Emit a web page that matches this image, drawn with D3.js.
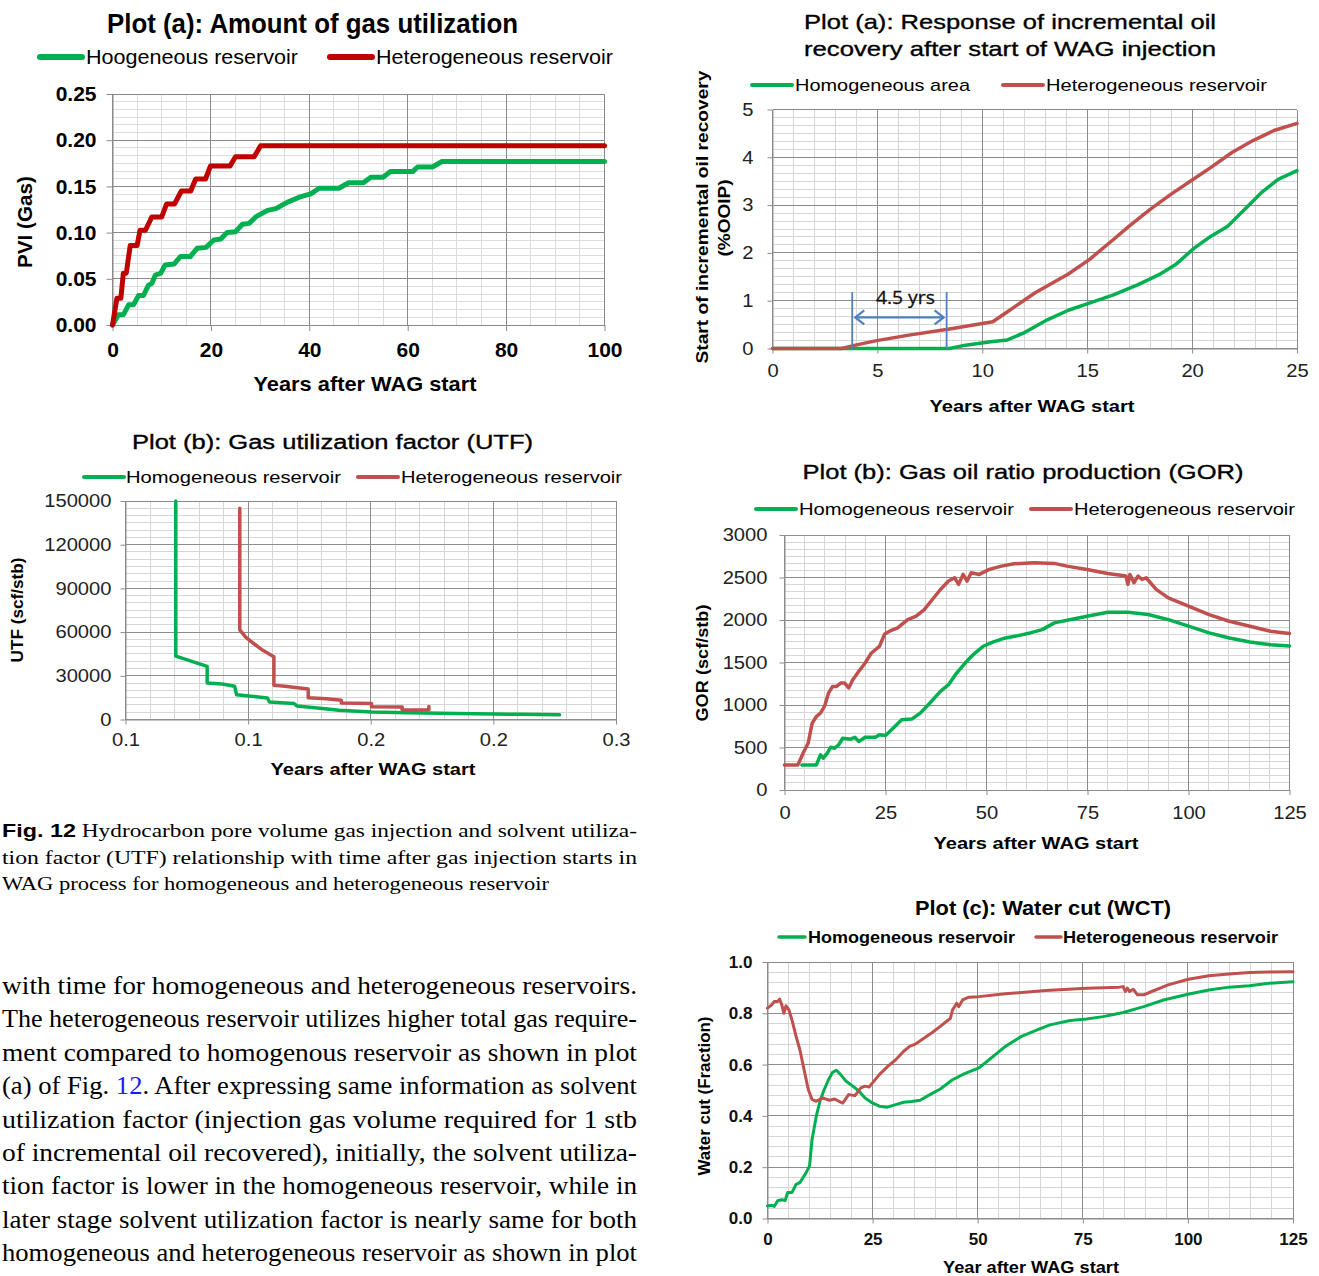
<!DOCTYPE html>
<html><head><meta charset="utf-8">
<script src="https://cdn.jsdelivr.net/npm/d3@7"></script>
<style>body{margin:0;background:#fff}svg{display:block}</style>
</head><body>
<svg id="fig" width="1319" height="1276"></svg>
<script>
// ---------- Panel (a) left: cumulative PVI of injected gas ----------
const pviYearsTicks = [0, 20, 40, 60, 80, 100];
const pviTicks = [0, 0.05, 0.10, 0.15, 0.20, 0.25];
const pviHomo = [[0,0],[1.2,0.011],[2.2,0.011],[3.3,0.022],[4.3,0.022],[5.3,0.032],[6.3,0.032],[7.3,0.043],[8,0.045],[8.7,0.054],[9.8,0.056],[10.7,0.065],[12.5,0.066],[13.8,0.074],[15.8,0.074],[17.2,0.083],[19,0.084],[20.6,0.092],[22,0.093],[23.3,0.1],[25,0.101],[26.4,0.109],[27.8,0.11],[29.1,0.117],[31.5,0.124],[33.2,0.126],[35.6,0.133],[38.3,0.139],[40.3,0.142],[42,0.148],[46,0.148],[48,0.154],[51,0.154],[52.5,0.16],[55,0.16],[56.5,0.166],[61,0.166],[62,0.171],[65,0.171],[67,0.177],[100,0.177]];
const pviHetero = [[0,0],[0.9,0.029],[1.7,0.029],[2.2,0.056],[2.8,0.056],[3.6,0.086],[5,0.086],[5.6,0.1025],[6.7,0.1025],[8,0.117],[10,0.117],[11,0.131],[12.6,0.131],[14,0.145],[15.9,0.145],[16.9,0.158],[18.9,0.158],[19.9,0.172],[23.9,0.172],[25,0.182],[28.8,0.182],[30.1,0.194],[100,0.194]];

// ---------- Panel (b) left: gas utilization factor ----------
const utfYearTicks = [0.05, 0.10, 0.15, 0.20, 0.25];
const utfYearLabels = ["0.1", "0.1", "0.2", "0.2", "0.3"];
const utfTicks = [0, 30000, 60000, 90000, 120000, 150000];
const utfHomo = [[0.0705,150000],[0.0705,43500],[0.0833,36500],[0.0833,25000],[0.0895,24400],[0.0945,22800],[0.0953,17000],[0.1078,14800],[0.1087,12000],[0.1187,11000],[0.12,9200],[0.1303,7600],[0.137,6300],[0.1503,5100],[0.165,4600],[0.1853,4100],[0.2103,3600],[0.227,3300]];
const utfHetero = [[0.0966,145000],[0.0966,61500],[0.099,56500],[0.102,52500],[0.106,47500],[0.1105,43000],[0.1105,23500],[0.115,22800],[0.1245,21000],[0.1245,15000],[0.132,14300],[0.138,13200],[0.138,11300],[0.1503,11000],[0.1503,8700],[0.1628,8600],[0.1628,6600],[0.1737,6500],[0.1737,9000]];

// ---------- Panel (a) right: incremental oil recovery ----------
const recYearTicks = [0, 5, 10, 15, 20, 25];
const recTicks = [0, 1, 2, 3, 4, 5];
const recHomo = [[0,0],[8.44,0],[9.2,0.07],[10.4,0.14],[11.2,0.18],[11.95,0.32],[13.1,0.6],[14.1,0.8],[15.1,0.95],[16.25,1.12],[17.4,1.33],[18.4,1.54],[19.2,1.75],[20.1,2.1],[20.9,2.35],[21.7,2.56],[22.5,2.91],[23.3,3.26],[24.1,3.54],[25,3.72]];
const recHetero = [[0,0],[3.3,0],[3.95,0.07],[4.9,0.16],[6.5,0.28],[8.44,0.41],[10.5,0.56],[11.2,0.77],[12.5,1.16],[14.1,1.56],[15.1,1.86],[16.25,2.28],[17.0,2.56],[18.0,2.91],[19.0,3.23],[19.95,3.51],[20.9,3.79],[21.9,4.1],[22.9,4.35],[23.9,4.56],[25,4.71]];
const delayStart = 3.8;   // years
const delaySpan = 4.5;    // years, "4.5 yrs"
const delayLabel = "4.5 yrs";

// ---------- Panel (b) right: producing gas oil ratio ----------
const gorYearTicks = [0, 25, 50, 75, 100, 125];
const gorTicks = [0, 500, 1000, 1500, 2000, 2500, 3000];
const gorHomo = [[4.3,295],[7.9,295],[8.9,413],[9.6,374],[10.6,433],[11.4,503],[12.4,491],[13.4,531],[14.4,609],[16.4,598],[17.4,621],[18.4,570],[20,621],[22.5,621],[23.5,649],[25,641],[26.5,708],[29,826],[31.5,834],[33.6,904],[35.6,1003],[38.6,1160],[40.6,1239],[42.6,1376],[44.7,1494],[46.7,1592],[49.2,1691],[51.7,1742],[54.7,1789],[57.8,1816],[60.8,1848],[63.8,1887],[66.8,1966],[70.9,2005],[74.9,2045],[80,2092],[85,2092],[90,2064],[95,2005],[100,1927],[105.1,1848],[110.1,1789],[115.2,1742],[120.3,1710],[125,1695]];
const gorHetero = [[0,295],[3.3,295],[4.8,452],[5.85,550],[6.85,786],[7.9,865],[8.9,905],[9.9,983],[10.9,1140],[11.9,1219],[12.9,1219],[13.9,1258],[14.9,1258],[15.9,1200],[16.9,1298],[18.4,1396],[19.96,1494],[21.5,1612],[23.5,1690],[24.8,1836],[26,1868],[28,1907],[30.5,2005],[32.6,2045],[34.6,2123],[36.6,2241],[38.6,2359],[40.6,2458],[42.1,2497],[43.1,2419],[44.2,2536],[45.2,2458],[46.2,2556],[48.2,2536],[50.7,2595],[53.7,2634],[56.8,2662],[61.8,2674],[66.8,2666],[69.9,2634],[74.9,2595],[80,2548],[84.5,2517],[85,2419],[85.5,2536],[86.5,2438],[87.5,2517],[88.5,2478],[89.5,2497],[92,2360],[95,2261],[100,2163],[105.1,2064],[110.1,1985],[115.2,1927],[120.3,1868],[125,1840]];

// ---------- Panel (c) right: water cut ----------
const wctYearTicks = [0, 25, 50, 75, 100, 125];
const wctTicks = [0, 0.2, 0.4, 0.6, 0.8, 1.0];
const wctHomo = [[0,0.049],[1,0.052],[1.6,0.047],[2.4,0.069],[3.4,0.073],[4.2,0.07],[4.8,0.101],[5.8,0.101],[6.8,0.133],[7.7,0.14],[8.2,0.153],[9.2,0.179],[10,0.205],[10.6,0.308],[11.6,0.399],[12.6,0.464],[13.5,0.503],[14.5,0.541],[15.5,0.57],[16.4,0.578],[17.4,0.561],[18.7,0.535],[20.3,0.516],[21.8,0.496],[23.2,0.47],[24.7,0.453],[26.6,0.438],[28.5,0.434],[30.5,0.444],[32.4,0.453],[34.3,0.456],[36.3,0.461],[38.2,0.479],[41.1,0.505],[44,0.541],[46.9,0.565],[50.3,0.587],[52.7,0.619],[56.6,0.671],[60.4,0.71],[64.3,0.736],[67.2,0.755],[72,0.772],[75.9,0.778],[79.8,0.787],[84.6,0.803],[89.5,0.826],[94.2,0.852],[100,0.874],[105,0.891],[109.8,0.902],[114.6,0.907],[119.3,0.917],[125,0.923]];
const wctHetero = [[0,0.82],[1,0.833],[1.6,0.846],[2.4,0.846],[2.9,0.855],[3.4,0.833],[3.9,0.8],[4.4,0.829],[5.1,0.813],[5.8,0.775],[6.8,0.71],[7.7,0.658],[8.7,0.58],[9.7,0.503],[10.6,0.464],[11.6,0.457],[13.1,0.47],[14.7,0.461],[16,0.466],[17,0.457],[17.9,0.45],[19.3,0.483],[20.8,0.479],[22.2,0.509],[23.2,0.516],[24.2,0.513],[26.6,0.561],[28.6,0.593],[30.5,0.619],[32.4,0.652],[33.8,0.671],[35.3,0.681],[37.2,0.703],[39.2,0.725],[41.1,0.749],[43,0.774],[43.5,0.78],[44,0.813],[45,0.839],[45.5,0.826],[46.4,0.852],[47.9,0.863],[50.3,0.865],[56.6,0.876],[66.2,0.889],[75.9,0.898],[83.7,0.902],[84.6,0.904],[85.1,0.885],[85.6,0.898],[86.1,0.885],[87,0.894],[88,0.872],[89.5,0.872],[91.4,0.885],[95.3,0.911],[100.1,0.933],[105,0.946],[109.8,0.953],[114.6,0.959],[119.3,0.961],[125,0.962]];

// ---------- drawing ----------
const SANS = "'Liberation Sans', Arial, Helvetica, sans-serif";
const NARROW = "'Liberation Sans Narrow', 'Liberation Sans', Arial, sans-serif";
const SERIF = "'Liberation Serif', 'Times New Roman', serif";
const GREEN = "#00b050", RED_DARK = "#c00000", RED = "#c0504d";
const svg = d3.select("#fig");

function text(parent, s, x, y, o = {}) {
  const t = parent.append("text").attr("x", x).attr("y", y).text(s)
    .attr("font-family", o.family || SANS)
    .attr("font-size", o.size || 17)
    .attr("font-weight", o.weight || "normal")
    .attr("fill", o.fill || "#000")
    .attr("text-anchor", o.anchor || "start");
  if (o.len) t.attr("textLength", o.len).attr("lengthAdjust", o.adjust || "spacingAndGlyphs");
  if (o.stroke) t.attr("stroke", o.fill || "#000").attr("stroke-width", o.stroke);
  if (o.rotate) t.attr("transform", `rotate(-90,${x},${y})`);
  return t;
}

function steps(d0, d1, step) {
  const n = Math.round((d1 - d0) / step);
  return d3.range(n + 1).map(i => d0 + i * step);
}

function panel(c) {
  const x = d3.scaleLinear().domain(c.xDomain).range([c.left, c.right]);
  const y = d3.scaleLinear().domain(c.yDomain).range([c.bottom, c.top]);
  const g = svg.append("g");
  const grid = g.append("g").attr("shape-rendering", "crispEdges");
  grid.selectAll(".vx").data(steps(c.xDomain[0], c.xDomain[1], c.xMinor)).join("line")
    .attr("x1", d => x(d)).attr("x2", d => x(d)).attr("y1", c.top).attr("y2", c.bottom)
    .attr("stroke", c.minorColor).attr("stroke-width", 1);
  grid.selectAll(".hy").data(steps(c.yDomain[0], c.yDomain[1], c.yMinor)).join("line")
    .attr("y1", d => y(d)).attr("y2", d => y(d)).attr("x1", c.left).attr("x2", c.right)
    .attr("stroke", c.minorColor).attr("stroke-width", 1);
  grid.selectAll(".mx").data(c.xTicks).join("line")
    .attr("x1", d => x(d)).attr("x2", d => x(d)).attr("y1", c.top).attr("y2", c.bottom)
    .attr("stroke", c.majorColor).attr("stroke-width", 1);
  grid.selectAll(".my").data(c.yTicks).join("line")
    .attr("y1", d => y(d)).attr("y2", d => y(d)).attr("x1", c.left).attr("x2", c.right)
    .attr("stroke", c.majorColor).attr("stroke-width", 1);

  const fmtX = c.xLabels ? (d, i) => c.xLabels[i] : c.xFormat;
  const ax = g.append("g").attr("transform", `translate(0,${c.bottom})`)
    .call(d3.axisBottom(x).tickValues(c.xTicks).tickFormat(fmtX).tickSize(c.tick).tickSizeOuter(0).tickPadding(c.xPad));
  const ay = g.append("g").attr("transform", `translate(${c.left},0)`)
    .call(d3.axisLeft(y).tickValues(c.yTicks).tickFormat(c.yFormat).tickSize(c.tick).tickSizeOuter(0).tickPadding(c.yPad));
  [ax, ay].forEach(a => {
    a.select(".domain").attr("stroke", c.majorColor);
    a.selectAll(".tick line").attr("stroke", c.majorColor);
    a.selectAll(".tick text").attr("font-family", c.tickFamily || SANS).attr("font-size", c.tickSize)
      .attr("font-weight", c.tickWeight || "normal").attr("fill", c.tickColor || "#111")
      .each(function () {
        if (c.tickStretch) {
          const w = this.getComputedTextLength();
          d3.select(this).attr("textLength", w * c.tickStretch).attr("lengthAdjust", "spacingAndGlyphs");
        }
      });
  });
  const line = d3.line().x(d => x(d[0])).y(d => y(d[1]));
  c.series.forEach(s => {
    g.append("path").datum(s.data).attr("d", line).attr("fill", "none")
      .attr("stroke", s.color).attr("stroke-width", c.lineWidth)
      .attr("stroke-linejoin", "round").attr("stroke-linecap", "round");
  });
  return { x, y, g };
}

function legendItem(x1, x2, y, color, w, label, tx, ty, o) {
  svg.append("line").attr("x1", x1).attr("x2", x2).attr("y1", y).attr("y2", y)
    .attr("stroke", color).attr("stroke-width", w).attr("stroke-linecap", "round");
  text(svg, label, tx, ty, o);
}

// Plot (a): Amount of gas utilization
panel({
  left: 112.5, right: 604.5, top: 94, bottom: 325,
  xDomain: [0, 100], yDomain: [0, 0.25], xTicks: pviYearsTicks, yTicks: pviTicks,
  xMinor: 5, yMinor: 0.05 / 6, minorColor: "#dcdcdc", majorColor: "#8a8a8a",
  xFormat: d3.format("d"), yFormat: d3.format(".2f"),
  tick: 6, xPad: 11, yPad: 10, tickSize: 21, tickWeight: "bold", tickColor: "#000",
  lineWidth: 5,
  series: [{ data: pviHomo, color: GREEN }, { data: pviHetero, color: RED_DARK }]
});
text(svg, "Plot (a): Amount of gas utilization", 107, 33, { size: 27, weight: "bold", family: NARROW, len: 411 });
legendItem(40, 82, 57, GREEN, 6, "Hoogeneous reservoir", 86, 64, { size: 21, family: NARROW, len: 212 });
legendItem(330, 372, 57, RED_DARK, 6, "Heterogeneous reservoir", 376, 64, { size: 21, family: NARROW, len: 237 });
text(svg, "PVI (Gas)", 32, 222, { size: 21, weight: "bold", anchor: "middle", rotate: true, len: 92 });
text(svg, "Years after WAG start", 365, 391, { size: 21, weight: "bold", family: NARROW, anchor: "middle", len: 223 });

// Plot (b): Gas utilization factor (UTF)
panel({
  left: 125.5, right: 616, top: 501, bottom: 719.5,
  xDomain: [0.05, 0.25], yDomain: [0, 150000], xTicks: utfYearTicks, xLabels: utfYearLabels, yTicks: utfTicks,
  xMinor: 0.01, yMinor: 5000, minorColor: "#d6d6d6", majorColor: "#8c8c8c",
  yFormat: d3.format("d"),
  tick: 5, xPad: 9, yPad: 9, tickSize: 18, tickStretch: 1.12, tickColor: "#222",
  lineWidth: 3.5,
  series: [{ data: utfHomo, color: GREEN }, { data: utfHetero, color: RED }]
});
text(svg, "Plot (b): Gas utilization factor (UTF)", 132, 449, { size: 20, len: 401, stroke: 0.35 });
legendItem(84, 124, 477, GREEN, 4, "Homogeneous reservoir", 126, 483, { size: 17, len: 215 });
legendItem(358, 398, 477, RED, 4, "Heterogeneous reservoir", 401, 483, { size: 17, len: 221 });
text(svg, "UTF (scf/stb)", 23, 610, { size: 17, weight: "bold", anchor: "middle", rotate: true, len: 105 });
text(svg, "Years after WAG start", 373, 775, { size: 17, weight: "bold", anchor: "middle", len: 205 });

// Plot (a): Response of incremental oil recovery
const rec = panel({
  left: 772.5, right: 1297, top: 109.5, bottom: 348.5,
  xDomain: [0, 25], yDomain: [0, 5], xTicks: recYearTicks, yTicks: recTicks,
  xMinor: 1, yMinor: 1 / 6, minorColor: "#d6d6d6", majorColor: "#8c8c8c",
  xFormat: d3.format("d"), yFormat: d3.format("d"),
  tick: 5, xPad: 11, yPad: 14, tickSize: 18, tickStretch: 1.12, tickColor: "#222",
  lineWidth: 3.5,
  series: [{ data: recHomo, color: GREEN }, { data: recHetero, color: RED }]
});
text(svg, "Plot (a): Response of incremental oil", 1010, 29, { size: 21, anchor: "middle", len: 412, stroke: 0.35 });
text(svg, "recovery after start of WAG injection", 1010, 56, { size: 21, anchor: "middle", len: 412, stroke: 0.35 });
legendItem(752, 792, 85, GREEN, 4, "Homogeneous area", 795, 91, { size: 17, len: 175 });
legendItem(1003, 1043, 85, RED, 4, "Heterogeneous reservoir", 1046, 91, { size: 17, len: 221 });
text(svg, "Start of incremental oil recovery", 708, 217, { size: 17, weight: "bold", anchor: "middle", rotate: true, len: 293 });
text(svg, "(%OOIP)", 730, 218, { size: 17, weight: "bold", anchor: "middle", rotate: true, len: 77 });
text(svg, "Years after WAG start", 1032, 412, { size: 17, weight: "bold", anchor: "middle", len: 205 });

// delay annotation between the two responses
{
  const { x, y, g } = rec;
  const ANNO = "#4f81bd";
  const xa = x(delayStart), xb = x(delayStart + delaySpan);
  [xa, xb].forEach(px => g.append("line").attr("x1", px).attr("x2", px)
    .attr("y1", y(1.18)).attr("y2", y(-0.02)).attr("stroke", ANNO).attr("stroke-width", 1.8));
  const ay = y(0.65);
  g.append("line").attr("x1", xa + 3).attr("x2", xb - 3).attr("y1", ay).attr("y2", ay)
    .attr("stroke", ANNO).attr("stroke-width", 2.2);
  g.append("path").attr("d", `M${xa + 12},${ay - 7} L${xa + 3},${ay} L${xa + 12},${ay + 7}`)
    .attr("fill", "none").attr("stroke", ANNO).attr("stroke-width", 2.2);
  g.append("path").attr("d", `M${xb - 12},${ay - 7} L${xb - 3},${ay} L${xb - 12},${ay + 7}`)
    .attr("fill", "none").attr("stroke", ANNO).attr("stroke-width", 2.2);
  text(g, delayLabel, (xa + xb) / 2 + 6, y(0.93), { size: 18, anchor: "middle", len: 59,
    family: "'Open Sans', 'Liberation Sans', sans-serif", fill: "#111", stroke: 0.3 });
}

// Plot (b): Gas oil ratio production (GOR)
panel({
  left: 784.5, right: 1289.5, top: 535, bottom: 790,
  xDomain: [0, 125], yDomain: [0, 3000], xTicks: gorYearTicks, yTicks: gorTicks,
  xMinor: 5, yMinor: 500 / 6, minorColor: "#d6d6d6", majorColor: "#8c8c8c",
  xFormat: d3.format("d"), yFormat: d3.format("d"),
  tick: 5, xPad: 11, yPad: 12, tickSize: 18, tickStretch: 1.12, tickColor: "#222",
  lineWidth: 3.5,
  series: [{ data: gorHomo, color: GREEN }, { data: gorHetero, color: RED }]
});
text(svg, "Plot (b): Gas oil ratio production (GOR)", 1023, 479, { size: 21, anchor: "middle", len: 441, stroke: 0.35 });
legendItem(756, 796, 509, GREEN, 4, "Homogeneous reservoir", 799, 515, { size: 17, len: 215 });
legendItem(1031, 1071, 509, RED, 4, "Heterogeneous reservoir", 1074, 515, { size: 17, len: 221 });
text(svg, "GOR (scf/stb)", 708, 663, { size: 17, weight: "bold", anchor: "middle", rotate: true, len: 117 });
text(svg, "Years after WAG start", 1036, 849, { size: 17, weight: "bold", anchor: "middle", len: 205 });

// Plot (c): Water cut (WCT)
panel({
  left: 767.5, right: 1293, top: 962, bottom: 1218.5,
  xDomain: [0, 125], yDomain: [0, 1], xTicks: wctYearTicks, yTicks: wctTicks,
  xMinor: 5, yMinor: 0.04, minorColor: "#d6d6d6", majorColor: "#8c8c8c",
  xFormat: d3.format("d"), yFormat: d3.format(".1f"),
  tick: 5, xPad: 9, yPad: 10, tickSize: 17, tickWeight: "bold", tickColor: "#111",
  lineWidth: 3,
  series: [{ data: wctHomo, color: GREEN }, { data: wctHetero, color: RED }]
});
text(svg, "Plot (c): Water cut (WCT)", 1043, 915, { size: 21, weight: "bold", anchor: "middle", len: 256 });
legendItem(779, 805, 937, GREEN, 3.5, "Homogeneous reservoir", 808, 943, { size: 17, weight: "bold", len: 207 });
legendItem(1036, 1061, 937, RED, 3.5, "Heterogeneous reservoir", 1063, 943, { size: 17, weight: "bold", len: 215 });
text(svg, "Water cut (Fraction)", 710, 1096, { size: 17, weight: "bold", anchor: "middle", rotate: true, len: 159 });
text(svg, "Year after WAG start", 1031, 1273, { size: 17, weight: "bold", anchor: "middle", len: 176 });

// ---------- caption and running text ----------
const cap = svg.append("text").attr("x", 2).attr("y", 837).attr("font-family", SERIF).attr("font-size", 19)
  .attr("textLength", 635).attr("lengthAdjust", "spacingAndGlyphs");
cap.append("tspan").attr("font-family", NARROW).attr("font-weight", "bold").attr("font-size", 19).text("Fig. 12");
cap.append("tspan").text("  Hydrocarbon pore volume gas injection and solvent utiliza-");
text(svg, "tion factor (UTF) relationship with time after gas injection starts in", 2, 864, { family: SERIF, size: 19, len: 635 });
text(svg, "WAG process for homogeneous and heterogeneous reservoir", 2, 890, { family: SERIF, size: 19, len: 547 });

const body = [
  "with time for homogeneous and heterogeneous reservoirs.",
  "The heterogeneous reservoir utilizes higher total gas require-",
  "ment compared to homogenous reservoir as shown in plot",
  null,
  "utilization factor (injection gas volume required for 1 stb",
  "of incremental oil recovered), initially, the solvent utiliza-",
  "tion factor is lower in the homogeneous reservoir, while in",
  "later stage solvent utilization factor is nearly same for both",
  "homogeneous and heterogeneous reservoir as shown in plot"
];
body.forEach((s, i) => {
  const yb = 994 + i * 33.4;
  if (s === null) {
    const t = svg.append("text").attr("x", 2).attr("y", yb).attr("font-family", SERIF).attr("font-size", 25)
      .attr("textLength", 635).attr("lengthAdjust", "spacingAndGlyphs");
    t.append("tspan").text("(a) of Fig. ");
    t.append("tspan").attr("fill", "#1a1aff").text("12");
    t.append("tspan").text(". After expressing same information as solvent");
  } else {
    text(svg, s, 2, yb, { family: SERIF, size: 25, len: 635 });
  }
});
</script>
</body></html>
